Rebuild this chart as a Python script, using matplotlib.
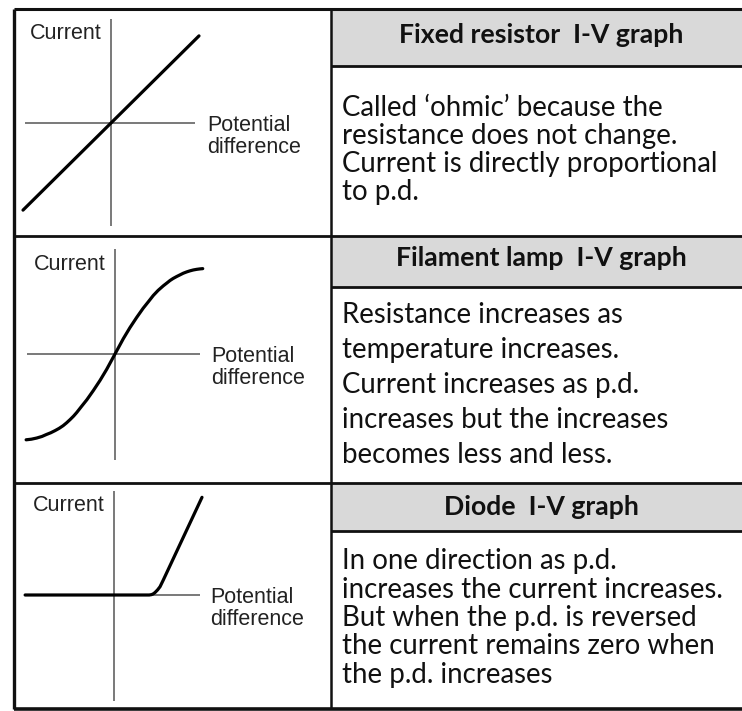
import matplotlib
matplotlib.use("Agg")
import matplotlib.pyplot as plt
from matplotlib.patches import Rectangle

# ---------------- data ----------------
titles = ["Fixed resistor  I-V graph", "Filament lamp  I-V graph", "Diode  I-V graph"]
descriptions = [
    ["Called \u2018ohmic\u2019 because the", "resistance does not change.",
     "Current is directly proportional", "to p.d."],
    ["Resistance increases as", "temperature increases.", "Current increases as p.d.",
     "increases but the increases", "becomes less and less."],
    ["In one direction as p.d.", "increases the current increases.",
     "But when the p.d. is reversed", "the current remains zero when", "the p.d. increases"],
]
y_label = "Current"
x_label_lines = ["Potential", "difference"]

resistor_v = [-1.0, 1.0]
resistor_i = [-0.99, 0.99]

lamp_v = [-1.01, -0.95, -0.89, -0.83, -0.78, -0.73, -0.68, -0.635, -0.59, -0.55, -0.51, -0.47,
          -0.435, -0.38, -0.32, -0.246, -0.17, -0.095, 0.0,
          0.095, 0.17, 0.246, 0.32, 0.38, 0.435, 0.49, 0.549, 0.59, 0.625, 0.66, 0.70, 0.74,
          0.776, 0.815, 0.852, 0.89, 0.928, 0.965, 0.997]
lamp_i = [-0.975, -0.968, -0.955, -0.937, -0.915, -0.895, -0.87, -0.845, -0.815, -0.782, -0.745, -0.705,
          -0.665, -0.595, -0.52, -0.415, -0.30, -0.175, 0.0,
          0.175, 0.30, 0.415, 0.52, 0.595, 0.665, 0.723, 0.775, 0.807, 0.835, 0.858, 0.88, 0.90,
          0.918, 0.933, 0.945, 0.955, 0.962, 0.967, 0.97]

diode_v = [-1.01, 0.40, 0.425, 0.443, 0.466, 0.495, 0.523, 0.56, 1.0]
diode_i = [0.0, 0.0, 0.004, 0.011, 0.028, 0.058, 0.094, 0.17, 1.11]

curves = [(resistor_v, resistor_i), (lamp_v, lamp_i), (diode_v, diode_i)]
# extents of the drawn axis lines (V range of horizontal, I range of vertical)
h_axis = [(-0.98, 0.95), (-1.0, 0.966), (-1.01, 0.977)]
v_axis = [(-1.17, 1.18), (-1.2, 1.19), (-1.2, 1.18)]

# ---------------- layout (pixels) ----------------
W, H, DPI = 742, 711, 100
L, R, T, B = 14, 746, 9, 709
C = 331
row_tops = [9, 236, 483]
row_bottoms = [236, 483, 709]
header_bottoms = [66, 287, 531]
header_baselines = [43, 266, 515]
body_baselines = [[116, 144, 172, 200],
                  [323, 358, 393, 428, 463],
                  [569, 598, 626, 654, 683]]
text_x = 342
header_cx = 541
origins = [(111, 123), (115, 354), (114, 595)]
UNIT = 88.0  # pixels per data unit

fig = plt.figure(figsize=(W / DPI, H / DPI), dpi=DPI)
fig.patch.set_facecolor("white")
bg = fig.add_axes([0, 0, 1, 1])
bg.set_xlim(0, W)
bg.set_ylim(H, 0)
bg.axis("off")

body_font = "Lato"
renderer = fig.canvas.get_renderer()
probe = bg.text(0, 0, "increases the current increases.", fontsize=16, family=body_font)
body_size = 16 * 383 / probe.get_window_extent(renderer).width
probe.remove()
probe = bg.text(0, 0, "Fixed resistor  I-V graph", fontsize=16, family=body_font, weight="bold")
head_size = 16 * 285 / probe.get_window_extent(renderer).width
probe.remove()

# header bands
for top, hb in zip(row_tops, header_bottoms):
    bg.add_patch(Rectangle((C, top), R - C, hb - top, facecolor="#d9d9d9",
                           edgecolor="none", zorder=1))
# grid lines
lk = dict(color="#111111", solid_capstyle="butt", zorder=3)
bg.plot([L, R], [T, T], lw=2.2, **lk)
bg.plot([L, R], [B, B], lw=2.6, **lk)
bg.plot([L, L], [T, B], lw=2.4, **lk)
bg.plot([C, C], [T, B], lw=1.8, **lk)
for y in row_bottoms[:-1]:
    bg.plot([L, R], [y, y], lw=2.0, **lk)
for y in header_bottoms:
    bg.plot([C, R], [y, y], lw=2.0, **lk)

# texts
for k in range(3):
    bg.text(header_cx, header_baselines[k], titles[k], ha="center", va="baseline",
            fontsize=head_size, family=body_font, weight="bold", color="#111111", zorder=4)
    for line, yb in zip(descriptions[k], body_baselines[k]):
        bg.text(text_x, yb, line, ha="left", va="baseline", fontsize=body_size,
                family=body_font, color="#111111", zorder=4)

# graphs
for k, (ox, oy) in enumerate(origins):
    ax = fig.add_axes([(ox - 100) / W, 1 - (oy + 115) / H, 200 / W, 230 / H])
    ax.set_xlim(-100 / UNIT, 100 / UNIT)
    ax.set_ylim(-115 / UNIT, 115 / UNIT)
    ax.axis("off")
    ax.patch.set_alpha(0)
    ax.plot(list(h_axis[k]), [0, 0], color="#555555", lw=1.1, solid_capstyle="butt")
    ax.plot([0, 0], list(v_axis[k]), color="#555555", lw=1.1, solid_capstyle="butt")
    v, i = curves[k]
    ax.plot(v, i, color="black", lw=2.3, solid_joinstyle="round", solid_capstyle="round")
    ax.text(-0.11, 0.96, y_label, ha="right", va="baseline", fontsize=15.5,
            family="Liberation Sans", color="#222222")
    ax.text(1.09, -0.09, x_label_lines[0], ha="left", va="baseline", fontsize=15.5,
            family="Liberation Sans", color="#222222")
    ax.text(1.09, -0.345, x_label_lines[1], ha="left", va="baseline", fontsize=15.5,
            family="Liberation Sans", color="#222222")

fig.savefig("out.png", dpi=DPI, facecolor="white")
